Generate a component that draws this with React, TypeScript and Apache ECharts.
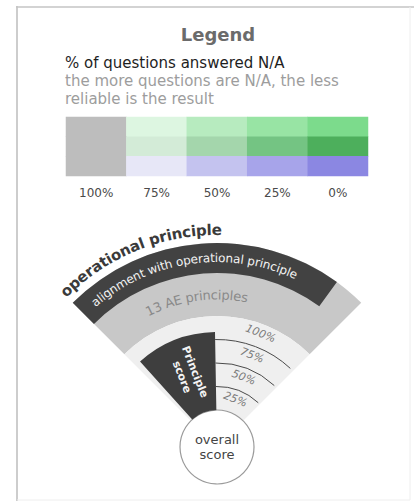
import { useEffect, useRef } from "react";
import * as echarts from "echarts";

// ---- data ----
const naLevels = ["100%", "75%", "50%", "25%", "0%"];
const paletteRows = ["light", "medium", "violet"];
const cellColours = [
  ["#bdbdbd", "#ddf6e1", "#b7ebbf", "#98e4a4", "#7cdb8c"],
  ["#bdbdbd", "#d3ebd7", "#a4d6ac", "#74c483", "#4daf5c"],
  ["#bdbdbd", "#e7e7f7", "#c4c3ef", "#a7a4ea", "#8b87e2"],
];
const scoreLevels = [25, 50, 75, 100];
const scoreLevelLabels = ["25%", "50%", "75%", "100%"];
const principleScore = 83;

const FONT = '"DejaVu Sans", sans-serif';

let measureCtx: CanvasRenderingContext2D | null = null;
function textWidth(s: string, size: number, weight: string) {
  if (!measureCtx) measureCtx = document.createElement("canvas").getContext("2d");
  measureCtx!.font = `${weight} ${size}px "DejaVu Sans"`;
  return measureCtx!.measureText(s).width;
}

const deg = (d: number) => (d * Math.PI) / 180;
const scr = (phi: number) => deg(phi - 90);

function arcText(
  text: string,
  cx: number,
  cy: number,
  R: number,
  centerDeg: number,
  size: number,
  weight: string,
  fill: string
) {
  const chars = Array.from(text);
  const widths = chars.map((c) => textWidth(c, size, weight));
  const total = widths.reduce((a, b) => a + b, 0);
  let s = -total / 2;
  return chars.map((ch, i) => {
    const mid = s + widths[i] / 2;
    s += widths[i];
    const phi = deg(centerDeg) + mid / R;
    return {
      type: "text",
      x: cx + R * Math.sin(phi),
      y: cy - R * Math.cos(phi),
      rotation: -phi,
      silent: true,
      style: {
        text: ch,
        fontSize: size,
        fontWeight: weight,
        fontFamily: FONT,
        fill,
        align: "center",
        verticalAlign: "middle",
      },
    };
  });
}

export default function App() {
  const ref = useRef<HTMLDivElement>(null);
  useEffect(() => {
    const chart = echarts.init(ref.current!, null, { renderer: "svg" });

    const heatData: any[] = [];
    const pieces: any[] = [];
    paletteRows.forEach((_, y) =>
      naLevels.forEach((__, x) => {
        const id = y * naLevels.length + x;
        heatData.push([x, y, id]);
        pieces.push({ value: id, color: cellColours[y][x] });
      })
    );

    const sector = (cx: number, cy: number, r0: number, r: number, a0: number, a1: number, fill: string) => ({
      type: "sector",
      silent: true,
      shape: { cx, cy, r0, r, startAngle: scr(a0), endAngle: scr(a1), clockwise: true },
      style: { fill },
    });

    chart.setOption({
      animation: false,
      visualMap: {
        type: "piecewise",
        show: false,
        dimension: 2,
        seriesIndex: 0,
        pieces,
      },
      grid: { left: 66, top: 117, width: 302, height: 59 },
      xAxis: {
        type: "category",
        data: naLevels,
        axisLine: { show: false },
        axisTick: { show: false },
        splitLine: { show: false },
        axisLabel: { color: "#4a4a4a", fontSize: 12, fontFamily: FONT, margin: 11 },
      },
      yAxis: {
        type: "category",
        data: paletteRows,
        inverse: true,
        show: false,
      },
      polar: { center: [217, 447], radius: [37, 131] },
      radiusAxis: {
        type: "value",
        min: 0,
        max: 100,
        show: false,
        axisLine: { show: false },
        axisLabel: { show: false },
        axisTick: { show: false },
        splitLine: { show: false },
      },
      angleAxis: {
        type: "value",
        min: -180,
        max: 180,
        startAngle: 270,
        clockwise: true,
        show: false,
        axisLine: { show: false },
        axisLabel: { show: false },
        axisTick: { show: false },
        splitLine: { show: false },
      },
      graphic: [
        { type: "line", silent: true, shape: { x1: 17, y1: 6, x2: 17, y2: 501 }, style: { stroke: "#bcbcbc", lineWidth: 1.5 } },
        { type: "line", silent: true, shape: { x1: 16, y1: 7, x2: 414, y2: 7 }, style: { stroke: "#c4c4c4", lineWidth: 1.5 } },
        { type: "line", silent: true, shape: { x1: 410, y1: 7, x2: 410, y2: 500 }, style: { stroke: "#eeeeee", lineWidth: 1 } },
        { type: "line", silent: true, shape: { x1: 17, y1: 500, x2: 410, y2: 500 }, style: { stroke: "#eeeeee", lineWidth: 1 } },
        {
          type: "text", x: 218, y: 34, silent: true,
          style: { text: "Legend", fontSize: 18, fontWeight: "bold", fontFamily: FONT, fill: "#6b6b6b", align: "center", verticalAlign: "middle" },
        },
        {
          type: "text", x: 65, y: 63, silent: true,
          style: { text: "% of questions answered N/A", fontSize: 15, fontFamily: FONT, fill: "#1e1e1e", align: "left", verticalAlign: "middle" },
        },
        {
          type: "text", x: 65, y: 81, silent: true,
          style: { text: "the more questions are N/A, the less", fontSize: 15, fontFamily: FONT, fill: "#9d9d9d", align: "left", verticalAlign: "middle" },
        },
        {
          type: "text", x: 65, y: 99, silent: true,
          style: { text: "reliable is the result", fontSize: 15, fontFamily: FONT, fill: "#9d9d9d", align: "left", verticalAlign: "middle" },
        },
      ],
      series: [
        {
          type: "heatmap",
          data: heatData,
          silent: true,
          itemStyle: { borderWidth: 0 },
          emphasis: { disabled: true },
        },
        {
          type: "custom",
          coordinateSystem: "polar",
          silent: true,
          z: 1,
          data: [[0, 0]],
          renderItem: (params: any, api: any) => {
            const cs = params.coordSys;
            const cx = cs.cx, cy = cs.cy, r0 = cs.r0, r1 = cs.r;
            return {
              type: "group",
              children: [
                sector(cx, cy, r1, r1 + 73, -45, 45, "#c8c8c8"),
                sector(cx, cy, r1 + 43, r1 + 73, -45, 36, "#424242"),
                sector(cx, cy, r0, r1, -45, 45, "#efefef"),
                ...arcText("13 AE principles", cx, cy, r1 + 21, -8, 13, "normal", "#8a8a8a"),
                ...arcText("alignment with operational principle", cx, cy, r1 + 58, -8, 12, "normal", "#f2f2f2"),
                ...arcText("operational principle", cx, cy, r1 + 86, -22, 15, "bold", "#3a3a3a"),
                {
                  type: "circle", silent: true,
                  shape: { cx, cy, r: r0 },
                  style: { fill: "#ffffff", stroke: "#9a9a9a", lineWidth: 1.2 },
                },
                {
                  type: "text", x: cx, y: cy, silent: true,
                  style: {
                    text: "overall\nscore", fontSize: 13, fontWeight: "normal", fontFamily: FONT, fill: "#444444",
                    align: "center", verticalAlign: "middle", lineHeight: 15,
                  },
                },
              ],
            };
          },
        },
        {
          type: "custom",
          coordinateSystem: "polar",
          silent: true,
          z: 2,
          data: [[principleScore, 0]],
          renderItem: (params: any, api: any) => {
            const cs = params.coordSys;
            const cx = cs.cx, cy = cs.cy;
            const r = api.coord([api.value(0), 0])[2];
            const a0 = -42, a1 = -1;
            const am = (a0 + a1) / 2;
            const rm = (cs.r0 + r) / 2 + 2;
            const p = deg(am);
            return {
              type: "group",
              children: [
                sector(cx, cy, cs.r0, r, a0, a1, "#3e3e3e"),
                {
                  type: "text", silent: true,
                  x: cx + rm * Math.sin(p),
                  y: cy - rm * Math.cos(p),
                  rotation: -deg(90 + am),
                  style: {
                    text: "Principle\nscore", fontSize: 11, fontWeight: "bold", fontFamily: FONT, fill: "#f4f4f4",
                    align: "center", verticalAlign: "middle", lineHeight: 14,
                  },
                },
              ],
            };
          },
        },
        {
          type: "custom",
          coordinateSystem: "polar",
          silent: true,
          z: 3,
          data: scoreLevels.map((v) => [v, 0]),
          renderItem: (params: any, api: any) => {
            const cs = params.coordSys;
            const cx = cs.cx, cy = cs.cy;
            const v = api.value(0);
            const r = api.coord([v, 0])[2];
            const rl = api.coord([v - 10, 0])[2];
            const al = 21;
            const children: any[] = [];
            if (v < 100) {
              children.push({
                type: "arc", silent: true,
                shape: { cx, cy, r, startAngle: scr(-1), endAngle: scr(43), clockwise: true },
                style: { stroke: "#4a4a4a", lineWidth: 1, fill: null },
              });
            }
            children.push({
              type: "text", silent: true,
              x: cx + rl * Math.sin(deg(al)),
              y: cy - rl * Math.cos(deg(al)),
              rotation: -deg(al),
              style: {
                text: scoreLevelLabels[params.dataIndex], fontSize: 11, fontStyle: "italic", fontFamily: FONT,
                fill: "#7a7a7a", align: "center", verticalAlign: "middle",
              },
            });
            return { type: "group", children };
          },
        },
      ],
    });
    return () => chart.dispose();
  }, []);
  return <div ref={ref} style={{ position: "fixed", left: 0, top: 0, width: 414, height: 502, background: "#fff" }} />;
}
